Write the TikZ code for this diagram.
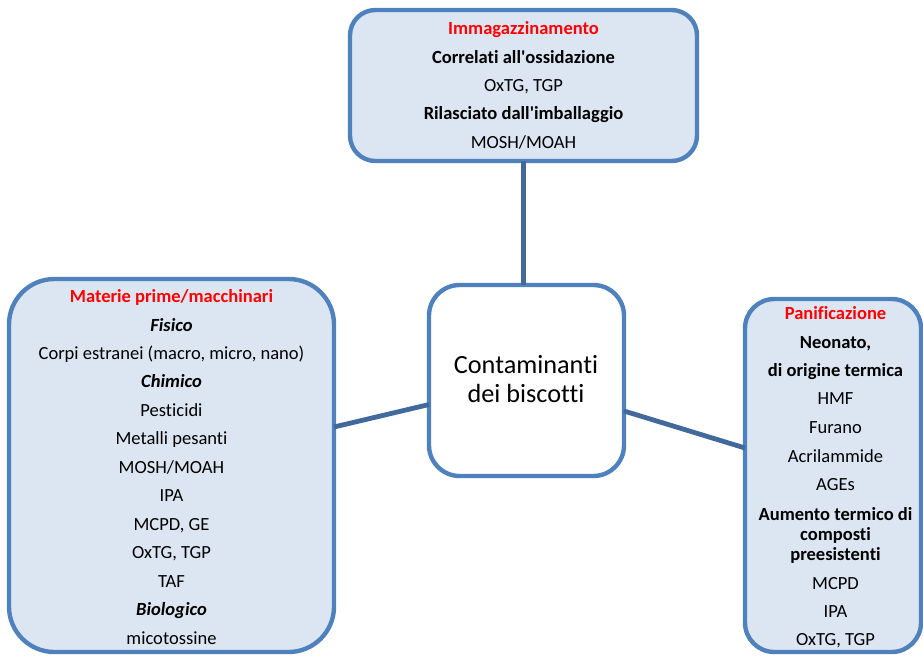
\documentclass[tikz,border=0pt]{standalone}
\usepackage{fontspec}
\setmainfont[Ligatures={NoCommon}, Contextuals={NoAlternate}]{Carlito}
\definecolor{edgeblue}{RGB}{79,129,189}
\definecolor{linkblue}{RGB}{65,105,155}
\definecolor{panel}{RGB}{220,230,242}
\definecolor{titlered}{RGB}{255,0,0}
\tikzset{
  panelbox/.style={draw=edgeblue, line width=3.3pt, fill=panel, inner sep=0pt, outer sep=0pt},
  corebox/.style={draw=edgeblue, line width=3.3pt, fill=white, inner sep=0pt, outer sep=0pt},
  link/.style={draw=linkblue, line width=3.6pt},
  item/.style={anchor=base, inner sep=0pt, font=\fontsize{13.9}{16}\selectfont},
  head/.style={item, text=titlered, font=\fontsize{13.9}{16}\selectfont\bfseries},
  sub/.style={item, font=\fontsize{13.9}{16}\selectfont\bfseries},
  subit/.style={item, font=\fontsize{13.9}{16}\selectfont\bfseries\itshape},
  core/.style={anchor=base, inner sep=0pt, font=\fontsize{19.7}{24}\selectfont}
}
\begin{document}
\begin{tikzpicture}[x=0.75pt, y=-0.75pt]
\useasboundingbox (0,0) rectangle (923,657);

% boxes
\node[panelbox, rounded corners=19pt, minimum width=260.25pt, minimum height=113.25pt] (store) at (523.5,85.5) {};
\node[panelbox, rounded corners=34pt, minimum width=243.75pt, minimum height=279.75pt] (raw) at (171.5,465.5) {};
\node[panelbox, rounded corners=22pt, minimum width=132pt, minimum height=264.75pt] (bake) at (833,475.5) {};
\node[corebox, rounded corners=23pt, minimum width=146.25pt, minimum height=143.25pt] (core) at (526.5,380.5) {};

% connectors
\coordinate (rawA) at (334,427);
\coordinate (coreL) at (429,404.5);
\coordinate (coreR) at (624,411);
\coordinate (bakeA) at (745,448);
\draw[link] (store.south -| 523.5,0) -- (core.north -| 523.5,0);
\draw[link] (rawA) -- (coreL);
\draw[link] (coreR) -- (bakeA);

% centre label
\node[core] (c1) at (526,373) {Contaminanti};
\node[core] (c2) at (526,402) {dei biscotti};

% storage
\node[head] (s1) at (523.5,34) {Immagazzinamento};
\node[sub]  (s2) at (523.5,63) {Correlati all\textquotesingle ossidazione};
\node[item] (s3) at (523.5,91) {OxTG, TGP};
\node[sub]  (s4) at (523.5,119) {Rilasciato dall\textquotesingle imballaggio};
\node[item] (s5) at (523.5,148) {MOSH/MOAH};

% raw materials / machinery
\foreach \y/\st/\t [count=\i] in {
  302/head/Materie prime\slash macchinari,
  331/subit/Fisico,
  359/item/Corpi estranei (macro{,} micro{,} nano),
  387/subit/Chimico,
  416/item/Pesticidi,
  444/item/Metalli pesanti,
  473/item/MOSH\slash MOAH,
  501/item/IPA,
  530/item/MCPD{,} GE,
  558/item/OxTG{,} TGP,
  587/item/TAF,
  615/subit/Biologico,
  644/item/micotossine}
  \node[\st] (r\i) at (171.5,\y) {\t};

% baking
\foreach \y/\st/\t [count=\i] in {
  319/head/Panificazione,
  348/sub/Neonato{,},
  376/sub/di origine termica,
  404/item/HMF,
  433/item/Furano,
  462/item/Acrilammide,
  490/item/AGEs,
  520/sub/Aumento termico di,
  540/sub/composti,
  560/sub/preesistenti,
  589/item/MCPD,
  617/item/IPA,
  645/item/OxTG{,} TGP}
  \node[\st] (b\i) at (835.5,\y) {\t};
\end{tikzpicture}
\end{document}
